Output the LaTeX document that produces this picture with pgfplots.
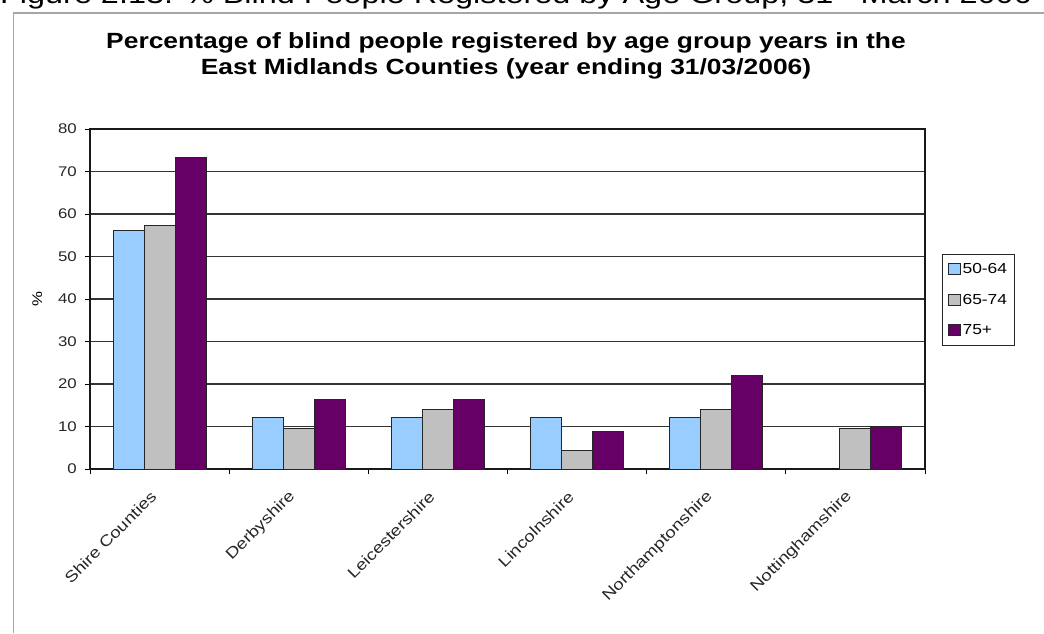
\documentclass[border=0pt]{standalone}
\usepackage{pgfplots}
\pgfplotsset{compat=1.18}
\usepackage{fontspec}
\setmainfont{Liberation Sans}[FakeStretch=1.2]
\definecolor{cblue}{HTML}{99CCFF}
\definecolor{cgray}{HTML}{C0C0C0}
\definecolor{cpurp}{HTML}{660066}
\begin{document}
\begin{tikzpicture}[x=1pt,y=1pt]
\begin{axis}[
 at={(90pt,164pt)}, anchor=south west,
 scale only axis, width=835pt, height=340pt,
 ybar=0pt, bar width=31pt,
 xmin=-0.5, xmax=5.5, ymin=0, ymax=80,
 ytick={0,10,...,80},
 xtick={0,...,5},
 xticklabels={Shire Counties,Derbyshire,Leicestershire,Lincolnshire,Northamptonshire,Nottinghamshire},
 minor xtick={-0.5,0.5,...,5.5},
 tick align=outside, xtick pos=bottom, ytick pos=left,
 major tick length=5pt, minor tick length=5pt,
 major x tick style={draw=none},
 minor x tick style={black, line width=1pt},
 ytick style={black, line width=1pt},
 ymajorgrids, grid style={black!80, line width=1.1pt},
 axis line style={black!90, line width=1.1pt},
 /pgf/number format/assume math mode=true,
 ticklabel style={font=\fontsize{14}{16}\selectfont, text=black!85},
 yticklabel style={inner sep=0pt, xshift=-8pt},
 xticklabel style={font=\fontsize{15.5}{18}\selectfont, xshift=-6pt, yshift=-20pt, rotate=45, anchor=east, inner sep=0pt},
 ylabel={\%}, ylabel style={font=\fontsize{14}{16}\selectfont, at={(axis description cs:-0.063,0.5)}, anchor=center},
 every axis plot/.append style={draw=black!85, line width=1pt},
 legend style={at={(axis description cs:1.0204,0.632)}, anchor=north west, draw=black!85, line width=1.1pt,
   font=\fontsize{14.5}{16}\selectfont, row sep=15pt, inner xsep=5pt, inner ysep=7pt,
   cells={anchor=west}},
 legend image code/.code={\draw[#1, line width=1pt] (0pt,-5pt) rectangle (12pt,6pt);},
]
\addplot[fill=cblue] coordinates {(0,56.2) (1,12.2) (2,12.2) (3,12.2) (4,12.2)};
\addplot[fill=cgray] coordinates {(0,57.3) (1,9.6) (2,14.0) (3,4.3) (4,14.0) (5,9.6)};
\addplot[fill=cpurp] coordinates {(0,73.2) (1,16.3) (2,16.3) (3,8.8) (4,22.1) (5,9.9)};
\legend{50-64,65-74,75+}
\end{axis}
\draw[black!35, line width=1.6pt] (13.5,0) -- (13.5,620) -- (1044,620);
\node[anchor=base, font=\fontsize{22}{26}\selectfont\bfseries] at (506,584) {Percentage of blind people registered by age group years in the};
\node[anchor=base, font=\fontsize{22}{26}\selectfont\bfseries] at (506,558) {East Midlands Counties (year ending 31/03/2006)};
\node[anchor=base west, font=\fontsize{27}{32}\selectfont, inner sep=0pt] at (0,629) {Figure 2.13: \% Blind People Registered by Age Group, 31\textsuperscript{st} March 2006};
\pgfresetboundingbox
\useasboundingbox (0,0) rectangle (1044,633);
\end{tikzpicture}
\end{document}
